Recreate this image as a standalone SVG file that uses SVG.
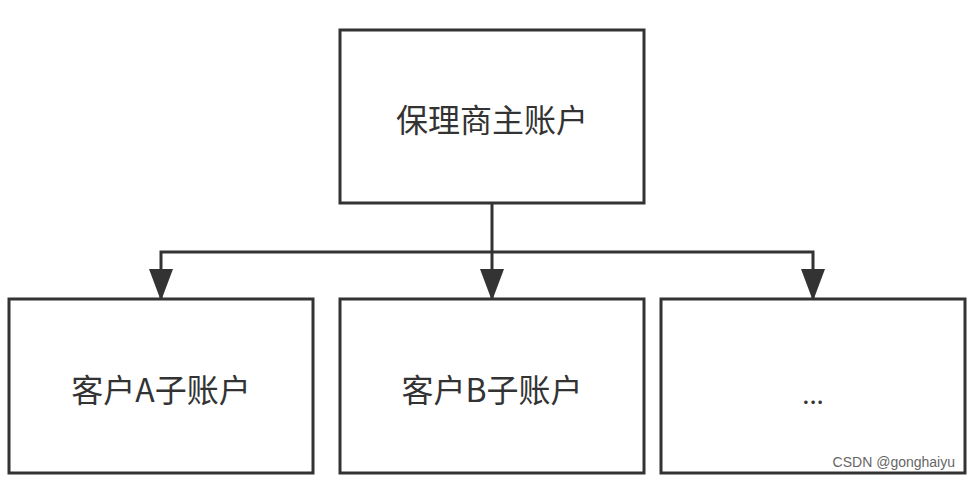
<svg xmlns="http://www.w3.org/2000/svg" width="971" height="481" viewBox="0 0 971 481">
<style>
.box{fill:#ffffff;stroke:#333333;stroke-width:3}
.lbl{font-family:"Noto Sans CJK SC","Noto Sans",sans-serif;font-size:32px;fill:#333333;text-anchor:middle;dominant-baseline:central}
.edge{fill:none;stroke:#333333;stroke-width:3}
.wm{font-family:"Liberation Sans",Arial,sans-serif;font-size:14px;fill:#666666}
</style>
<defs>
<marker id="arr" markerUnits="userSpaceOnUse" markerWidth="32" markerHeight="24" refX="31" refY="12" orient="auto" viewBox="0 0 32 24">
<path d="M0,0 L32,12 L0,24 Z" fill="#333333"/>
</marker>
</defs>
<rect width="971" height="481" fill="#ffffff"/>
<g id="edges">
<path class="edge" d="M492,203 V300" marker-end="url(#arr)"/>
<path class="edge" d="M492,252 H161 V300" marker-end="url(#arr)"/>
<path class="edge" d="M492,252 H813 V300" marker-end="url(#arr)"/>
</g>
<g id="root">
<rect class="box" x="340" y="30" width="304" height="173"/>
<text class="lbl" x="492" y="118">保理商主账户</text>
</g>
<g id="childA">
<rect class="box" x="9" y="299" width="304" height="174"/>
<text class="lbl" x="161" y="388">客户A子账户</text>
</g>
<g id="childB">
<rect class="box" x="340" y="299" width="304" height="174"/>
<text class="lbl" x="492" y="388">客户B子账户</text>
</g>
<g id="childC">
<rect class="box" x="661" y="299" width="304" height="174"/>
<text class="lbl" x="813" y="392" style="font-size:26px">...</text>
</g>
<text class="wm" x="955" y="467" text-anchor="end">CSDN @gonghaiyu</text>
</svg>
